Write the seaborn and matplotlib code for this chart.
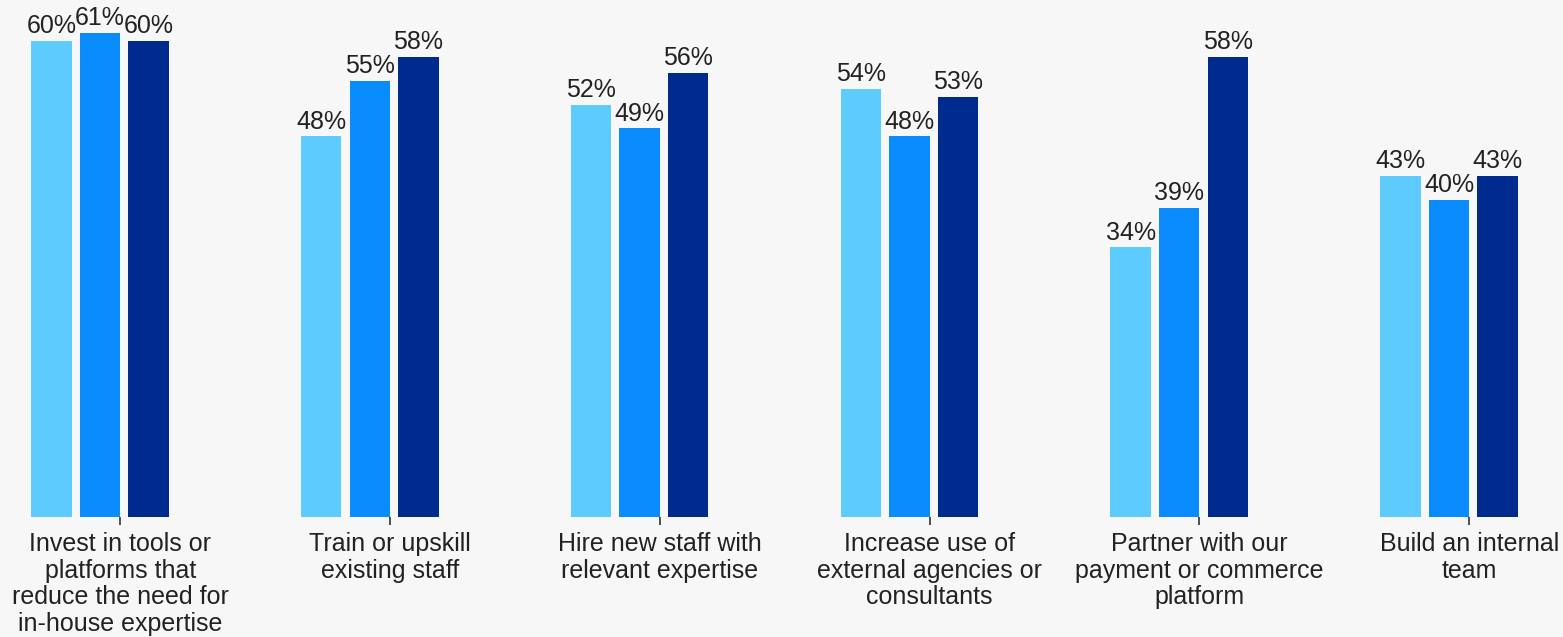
import numpy as np
import pandas as pd
import matplotlib
matplotlib.use("Agg")
import matplotlib.pyplot as plt
import seaborn as sns

categories = [
    "Invest in tools or\nplatforms that\nreduce the need for\nin-house expertise",
    "Train or upskill\nexisting staff",
    "Hire new staff with\nrelevant expertise",
    "Increase use of\nexternal agencies or\nconsultants",
    "Partner with our\npayment or commerce\nplatform",
    "Build an internal\nteam",
]
series_names = ["Series 1", "Series 2", "Series 3"]
series1 = [60, 48, 52, 54, 34, 43]
series2 = [61, 55, 49, 48, 39, 40]
series3 = [60, 58, 56, 53, 58, 43]
colors = ["#5ecbfe", "#0a8cff", "#002b8e"]

rows = []
for name, vals in zip(series_names, [series1, series2, series3]):
    for c, v in zip(categories, vals):
        rows.append({"category": c, "series": name, "value": v})
df = pd.DataFrame(rows)

sns.set_theme(style="white")
plt.rcParams["font.family"] = ["Liberation Sans", "DejaVu Sans"]

fig = plt.figure(figsize=(15.63, 6.37), dpi=100, facecolor="#f7f7f7")
ax = fig.add_axes([0, (637 - 517) / 637, 1, 517 / 637])
ax.set_facecolor("#f7f7f7")

sns.barplot(data=df, x="category", y="value", hue="series", palette=colors,
            width=0.54, gap=0.17, ax=ax, legend=False, saturation=1,
            edgecolor="none", linewidth=0)

for cont in ax.containers:
    ax.bar_label(cont, labels=[f"{int(v)}%" for v in cont.datavalues],
                 padding=2, fontsize=18, color="#222222")

px_per_unit = 269.8
ax.set_xlim(-100 / px_per_unit, (1563 - 100) / px_per_unit)
ax.set_ylim(0, 517 / 7.93)

bar_w = 0.54 / 3 * (1 - 0.17)
ax.set_xticks(np.arange(len(categories)) + bar_w / 2)
ax.set_xticklabels(categories, fontsize=18, color="#222222", linespacing=1.13)
ax.tick_params(axis="x", bottom=True, length=6, width=1.2, color="#333333", pad=5)
ax.set_yticks([])
ax.set_xlabel("")
ax.set_ylabel("")
for s in ax.spines.values():
    s.set_visible(False)

fig.savefig("out.png", dpi=100, facecolor="#f7f7f7")
